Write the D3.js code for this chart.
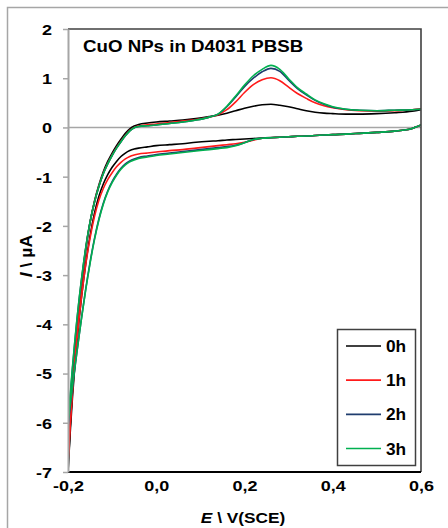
<!DOCTYPE html>
<html>
<head>
<meta charset="utf-8">
<script src="https://cdn.jsdelivr.net/npm/d3@7"></script>
<style>
  body { margin: 0; background: #fff; }
  text { font-family: "Liberation Sans", Arial, sans-serif; font-weight: bold; fill: #000; }
</style>
</head>
<body>
<svg id="chart" width="448" height="528"></svg>
<script>
// Cyclic voltammograms of CuO NPs in D4031 PBSB after 0-3 h
const seriesNames  = ["0h", "1h", "2h", "3h"];
const seriesColors = ["#000000", "#ff1a1a", "#1f3d6e", "#00b050"];

// potential grid (V vs SCE), shared by both scan directions
const potentials = [-0.200,-0.195,-0.190,-0.185,-0.180,-0.175,-0.170,-0.165,-0.160,
  -0.150,-0.140,-0.130,-0.120,-0.110,-0.100,-0.090,-0.080,-0.070,-0.060,-0.050,-0.040,
  -0.020,0.000,0.030,0.060,0.090,0.120,0.140,0.160,0.180,0.200,0.220,0.240,0.260,0.280,
  0.300,0.320,0.340,0.360,0.380,0.400,0.430,0.460,0.500,0.540,0.580,0.600];

// anodic (forward) scan currents, µA
const anodic0h = [-7.0,-6.1,-5.35,-4.72,-4.17,-3.68,-3.24,-2.85,-2.5,
  -1.93,-1.5,-1.17,-0.9,-0.69,-0.52,-0.37,-0.24,-0.12,-0.03,0.03,0.06,
  0.09,0.11,0.13,0.15,0.18,0.22,0.25,0.29,0.34,0.39,0.43,0.46,0.47,0.45,
  0.42,0.38,0.34,0.31,0.29,0.28,0.27,0.27,0.28,0.30,0.33,0.36];
const anodic1h = [-6.8,-6.0,-5.3,-4.68,-4.13,-3.64,-3.2,-2.82,-2.48,
  -1.93,-1.51,-1.19,-0.93,-0.73,-0.56,-0.41,-0.28,-0.16,-0.06,0.0,0.03,
  0.055,0.07,0.10,0.13,0.16,0.21,0.26,0.36,0.52,0.71,0.87,0.97,1.01,0.95,
  0.82,0.69,0.59,0.50,0.44,0.40,0.36,0.34,0.33,0.34,0.36,0.38];
const anodic2h = [-6.1,-5.48,-4.92,-4.41,-3.94,-3.51,-3.13,-2.78,-2.46,
  -1.92,-1.52,-1.2,-0.94,-0.74,-0.57,-0.42,-0.29,-0.17,-0.07,-0.005,0.02,
  0.035,0.05,0.08,0.11,0.15,0.21,0.27,0.42,0.62,0.83,1.0,1.13,1.20,1.14,
  0.96,0.79,0.66,0.55,0.47,0.41,0.37,0.35,0.34,0.35,0.36,0.37];
const anodic3h = [-6.0,-5.42,-4.88,-4.38,-3.92,-3.5,-3.12,-2.77,-2.45,
  -1.92,-1.52,-1.2,-0.94,-0.74,-0.57,-0.42,-0.29,-0.17,-0.07,-0.005,0.02,
  0.035,0.05,0.08,0.11,0.15,0.21,0.27,0.43,0.64,0.86,1.05,1.18,1.26,1.18,
  0.99,0.81,0.68,0.56,0.48,0.42,0.37,0.35,0.34,0.35,0.36,0.37];

// cathodic (reverse) scan currents, µA, listed on the same ascending grid
const cathodic0h = [-7.0,-6.2,-5.5,-4.9,-4.38,-3.92,-3.5,-3.12,-2.78,
  -2.2,-1.74,-1.4,-1.15,-0.96,-0.81,-0.69,-0.59,-0.52,-0.47,-0.44,-0.42,
  -0.395,-0.37,-0.35,-0.33,-0.30,-0.28,-0.27,-0.255,-0.245,-0.235,-0.225,-0.215,-0.205,-0.20,
  -0.19,-0.18,-0.175,-0.165,-0.155,-0.145,-0.135,-0.12,-0.10,-0.075,-0.02,0.05];
const cathodic1h = [-6.8,-6.05,-5.4,-4.83,-4.33,-3.89,-3.49,-3.13,-2.8,
  -2.25,-1.81,-1.48,-1.24,-1.06,-0.92,-0.80,-0.71,-0.64,-0.59,-0.56,-0.54,
  -0.52,-0.50,-0.47,-0.45,-0.42,-0.39,-0.37,-0.35,-0.33,-0.30,-0.26,-0.22,-0.21,-0.20,
  -0.19,-0.18,-0.175,-0.165,-0.155,-0.145,-0.135,-0.12,-0.10,-0.075,-0.02,0.05];
const cathodic2h = [-6.1,-5.68,-5.3,-4.93,-4.58,-4.24,-3.91,-3.6,-3.29,
  -2.74,-2.26,-1.86,-1.54,-1.29,-1.1,-0.95,-0.83,-0.74,-0.68,-0.64,-0.61,
  -0.58,-0.55,-0.52,-0.49,-0.46,-0.43,-0.41,-0.39,-0.36,-0.31,-0.245,-0.22,-0.21,-0.20,
  -0.19,-0.18,-0.175,-0.165,-0.155,-0.145,-0.135,-0.12,-0.10,-0.075,-0.02,0.05];
const cathodic3h = [-6.0,-5.62,-5.26,-4.91,-4.57,-4.24,-3.92,-3.61,-3.31,
  -2.76,-2.28,-1.88,-1.56,-1.31,-1.12,-0.97,-0.85,-0.76,-0.70,-0.66,-0.63,
  -0.60,-0.57,-0.54,-0.51,-0.48,-0.45,-0.43,-0.41,-0.37,-0.31,-0.245,-0.22,-0.21,-0.20,
  -0.19,-0.18,-0.175,-0.165,-0.155,-0.145,-0.135,-0.12,-0.10,-0.075,-0.02,0.05];

const anodicScans   = [anodic0h, anodic1h, anodic2h, anodic3h];
const cathodicScans = [cathodic0h, cathodic1h, cathodic2h, cathodic3h];

const xTickValues = [-0.2, 0.0, 0.2, 0.4, 0.6];
const xTickLabels = ["-0,2", "0,0", "0,2", "0,4", "0,6"];
const yTickValues = [-7, -6, -5, -4, -3, -2, -1, 0, 1, 2];
const yTickLabels = ["-7", "-6", "-5", "-4", "-3", "-2", "-1", "0", "1", "2"];

const chartTitle = "CuO NPs in D4031 PBSB";

// ---- layout ----
const plot = { left: 68, top: 29, right: 421, bottom: 472 };
const svg = d3.select("#chart");

const x = d3.scaleLinear().domain([-0.2, 0.6]).range([plot.left, plot.right]);
const y = d3.scaleLinear().domain([-7, 2]).range([plot.bottom, plot.top]);

// outer chart frame
svg.append("rect")
  .attr("x", 7.5).attr("y", 7.5).attr("width", 470).attr("height", 540)
  .attr("fill", "#fff").attr("stroke", "#a6a6a6").attr("stroke-width", 1.5);

// clip for the plotted curves
svg.append("clipPath").attr("id", "plotClip")
  .append("rect")
  .attr("x", plot.left).attr("y", plot.top)
  .attr("width", plot.right - plot.left).attr("height", plot.bottom - plot.top);

// zero-current line
svg.append("line")
  .attr("x1", plot.left).attr("x2", plot.right)
  .attr("y1", y(0)).attr("y2", y(0))
  .attr("stroke", "#a6a6a6").attr("stroke-width", 1.5);

// curves
const line = d3.line()
  .x(d => x(d[0])).y(d => y(d[1]))
  .curve(d3.curveMonotoneX);

const curves = svg.append("g").attr("clip-path", "url(#plotClip)");
seriesNames.forEach((name, i) => {
  [anodicScans[i], cathodicScans[i]].forEach(scan => {
    curves.append("path")
      .datum(potentials.map((e, k) => [e, scan[k]]))
      .attr("d", line)
      .attr("fill", "none")
      .attr("stroke", seriesColors[i])
      .attr("stroke-width", 1.6)
      .attr("stroke-linejoin", "round");
  });
});

// plot area frame (top, right, bottom)
svg.append("path")
  .attr("d", `M${plot.left},${plot.top}H${plot.right}V${plot.bottom}`)
  .attr("fill", "none").attr("stroke", "#404040").attr("stroke-width", 1.6);
svg.append("line")
  .attr("x1", plot.left).attr("x2", plot.right)
  .attr("y1", plot.bottom).attr("y2", plot.bottom)
  .attr("stroke", "#000").attr("stroke-width", 1.8);

// y axis
const yAxis = svg.append("g")
  .attr("transform", `translate(${plot.left},0)`)
  .call(d3.axisLeft(y).tickValues(yTickValues).tickSize(5).tickSizeOuter(0)
    .tickFormat((d, i) => yTickLabels[i]));
yAxis.select(".domain").attr("stroke", "#a6a6a6").attr("stroke-width", 2);
yAxis.selectAll(".tick line").attr("stroke", "#a6a6a6").attr("stroke-width", 1.5);
yAxis.selectAll(".tick text")
  .attr("x", -16 / 1.2).attr("dy", "0.36em")
  .attr("transform", "scale(1.2,1)")
  .style("font-size", "15px")
  .attr("fill", "#000");

// x axis (labels only)
const xAxis = svg.append("g")
  .attr("transform", `translate(0,${plot.bottom})`)
  .call(d3.axisBottom(x).tickValues(xTickValues).tickSize(0)
    .tickFormat((d, i) => xTickLabels[i]));
xAxis.select(".domain").remove();
xAxis.selectAll(".tick text")
  .attr("y", 19.5).attr("dy", 0)
  .attr("transform", "scale(1.2,1)")
  .style("font-size", "15px")
  .attr("fill", "#000");

// axis titles
const xTitle = svg.append("text")
  .attr("transform", "translate(243,523) scale(1.15,1)")
  .attr("text-anchor", "middle").style("font-size", "15px");
xTitle.append("tspan").style("font-style", "italic").text("E");
xTitle.append("tspan").text(" \\ V(SCE)");

const yTitle = svg.append("text")
  .attr("transform", "translate(32,256) rotate(-90) scale(1.1,1)")
  .attr("text-anchor", "middle").style("font-size", "16px");
yTitle.append("tspan").style("font-style", "italic").text("I");
yTitle.append("tspan").text(" \\ µA");

// chart title
svg.append("text")
  .attr("transform", "translate(83,52) scale(1.1,1)")
  .style("font-size", "17px")
  .text(chartTitle);

// legend
const legend = svg.append("g");
legend.append("rect")
  .attr("x", 337.5).attr("y", 329.5).attr("width", 78).attr("height", 136)
  .attr("fill", "#fff").attr("stroke", "#404040").attr("stroke-width", 1.5);
const legendRow = d3.scalePoint().domain(seriesNames).range([346, 448.5]);
seriesNames.forEach((name, i) => {
  const ly = legendRow(name);
  legend.append("line")
    .attr("x1", 346).attr("x2", 381).attr("y1", ly).attr("y2", ly)
    .attr("stroke", seriesColors[i]).attr("stroke-width", 1.6);
  legend.append("text")
    .attr("transform", `translate(386,${ly + 6}) scale(1.08,1)`)
    .style("font-size", "16px")
    .text(name);
});
</script>
</body>
</html>
